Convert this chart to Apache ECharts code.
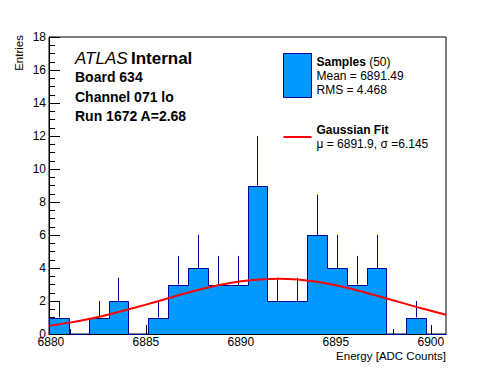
<!DOCTYPE html>
<html><head><meta charset="utf-8">
<script src="https://cdn.jsdelivr.net/npm/echarts@6/dist/echarts.min.js"></script>
<style>html,body{margin:0;padding:0;background:#fff}#c{width:496px;height:372px}</style>
</head><body><div id="c"></div>
<script>
// ---- data ----
const axisMin = 6879.9;
const axisMax = 6900.8;
const counts = [1,0,1,2,0,1,3,4,3,3,9,2,2,6,4,3,4,0,1,0];
const errors = [1,0,1,1.41,0,1,1.73,2,1.73,1.73,3,1.41,1.41,2.45,2,1.73,2,0,1,0];
const fitX = [6879.9,6881,6882,6883,6884,6885,6886,6887,6888,6889,6890,6891,6892,6893,6894,6895,6896,6897,6898,6899,6900,6900.8];
const fitY = [0.50,0.69,0.91,1.17,1.47,1.78,2.11,2.44,2.74,3.00,3.19,3.31,3.35,3.30,3.16,2.95,2.68,2.37,2.05,1.72,1.41,1.17];
const xMajorTicks = [6880,6885,6890,6895,6900];
const xMinorTicks = [6880,6881,6882,6883,6884,6885,6886,6887,6888,6889,6890,6891,6892,6893,6894,6895,6896,6897,6898,6899,6900];
const yMin = 0, yMax = 18, yStep = 2;
const xTitle = 'Energy [ADC Counts]';
const yTitle = 'Entries';
const infoLines = ['Board 634','Channel 071 lo','Run 1672 A=2.68'];
const sampleCount = 50, sampleMean = '6891.49', sampleRms = '4.468';
const fitMu = '6891.9', fitSigma = '6.145';

const FONT = '"Liberation Sans", Arial, Helvetica, sans-serif';
const FILL = '#0099ff', EDGE = '#00009c';

const nb = counts.length;
const bw = (axisMax - axisMin) / nb;
const histData = counts.map((c, i) => [axisMin + i * bw, axisMin + (i + 1) * bw, c, i > 0 ? counts[i - 1] : 0, errors[i], i === nb - 1 ? 1 : 0]);
const fitData = fitX.map((x, i) => [x, fitY[i]]);
const px = v => Math.round(v) + 0.5;
const R = Math.round;

const chart = echarts.init(document.getElementById('c'), null, {renderer: 'svg'});
chart.setOption({
  animation: false,
  backgroundColor: '#fff',
  textStyle: {fontFamily: FONT},
  grid: {left: 49, right: 50, top: 37, bottom: 38, show: true, borderColor: '#000', borderWidth: 1, backgroundColor: '#fff', containLabel: false, outerBoundsMode: 'none'},
  xAxis: [{
    type: 'value', min: axisMin, max: axisMax, position: 'bottom',
    axisLine: {show: true, lineStyle: {color: '#000', width: 1}},
    axisTick: {show: true, inside: true, length: 9, customValues: xMajorTicks, lineStyle: {color: '#000'}},
    axisLabel: {customValues: xMajorTicks, color: '#000', fontSize: 12, margin: 2, fontFamily: FONT, formatter: v => String(v)},
    splitLine: {show: false}
  }, {
    type: 'value', min: axisMin, max: axisMax, position: 'bottom', offset: 0,
    axisLine: {show: false},
    axisTick: {show: true, inside: true, length: 5, customValues: xMinorTicks, lineStyle: {color: '#000'}},
    axisLabel: {show: false},
    splitLine: {show: false}
  }],
  yAxis: {
    type: 'value', min: yMin, max: yMax, interval: yStep,
    axisLine: {show: true, lineStyle: {color: '#000', width: 1}},
    axisTick: {show: true, inside: true, length: 11, lineStyle: {color: '#000'}},
    minorTick: {show: true, splitNumber: 4, length: 6, lineStyle: {color: '#000'}},
    axisLabel: {color: '#000', fontSize: 12, margin: 3, fontFamily: FONT},
    splitLine: {show: false},
    name: yTitle, nameLocation: 'end', nameRotate: 90, nameGap: 2,
    nameTextStyle: {align: 'right', verticalAlign: 'bottom', padding: [0, 0, 24, 0], fontSize: 11.5, color: '#000', fontFamily: FONT}
  },
  legend: {
    left: 283, top: 53, orient: 'vertical', itemWidth: 28, itemHeight: 44, itemGap: 17, padding: 0,
    selectedMode: false,
    data: [
      {name: 'Samples', icon: 'rect', itemStyle: {color: FILL, borderColor: EDGE, borderWidth: 1}},
      {name: 'Gaussian Fit', icon: 'path://M0,0L0,0M0,21L28,21L28,23L0,23ZM28,44L28,44', itemStyle: {color: '#ff0000', borderWidth: 0}}
    ],
    formatter: name => name === 'Samples'
      ? '{b|Samples} {n|(' + sampleCount + ')}\n{n|Mean = ' + sampleMean + '}\n{n|RMS = ' + sampleRms + '}'
      : '{b|Gaussian Fit}\n{n|\u03bc = ' + fitMu + ', \u03c3 =' + fitSigma + '}',
    textStyle: {
      fontFamily: FONT, color: '#000',
      rich: {
        b: {fontWeight: 'bold', fontSize: 12, lineHeight: 14, fontFamily: FONT, color: '#000'},
        n: {fontSize: 12, lineHeight: 14, fontFamily: FONT, color: '#000'}
      }
    }
  },
  graphic: [
    {type: 'text', x: 75, y: 58, style: {text: '{i|ATLAS} {b|Internal}', verticalAlign: 'middle', rich: {
      i: {fontStyle: 'italic', fontSize: 17, fontFamily: FONT, fill: '#000'},
      b: {fontWeight: 'bold', fontSize: 17, fontFamily: FONT, fill: '#000'}}}},
    {type: 'text', x: 75, y: 77, style: {text: infoLines[0], font: 'bold 14px ' + FONT, fill: '#000', verticalAlign: 'middle'}},
    {type: 'text', x: 75, y: 97, style: {text: infoLines[1], font: 'bold 14px ' + FONT, fill: '#000', verticalAlign: 'middle'}},
    {type: 'text', x: 75, y: 116, style: {text: infoLines[2], font: 'bold 14px ' + FONT, fill: '#000', verticalAlign: 'middle'}},
    {type: 'text', x: 446, y: 350, style: {text: xTitle, font: '11.5px ' + FONT, fill: '#000', align: 'right', verticalAlign: 'top'}}
  ],
  series: [{
    name: 'Samples', type: 'custom', xAxisIndex: 0, yAxisIndex: 0,
    itemStyle: {color: FILL, borderColor: EDGE, borderWidth: 1},
    encode: {x: [0, 1], y: 2},
    data: histData,
    renderItem: (params, api) => {
      const lo = api.value(0), hi = api.value(1), c = api.value(2), prev = api.value(3), err = api.value(4), last = api.value(5);
      const b0 = api.coord([lo, 0]), t1 = api.coord([hi, c]), pp = api.coord([lo, prev]);
      const children = [];
      if (c > 0) children.push({type: 'rect', z2: 1, shape: {x: R(b0[0]), y: R(t1[1]), width: R(t1[0]) - R(b0[0]), height: R(b0[1]) - R(t1[1])}, style: {fill: FILL}});
      const pts = [[px(b0[0]), px(pp[1])], [px(b0[0]), px(t1[1])], [px(t1[0]), px(t1[1])]];
      if (last) pts.push([px(t1[0]), px(b0[1])]);
      children.push({type: 'polyline', z2: 5, shape: {points: pts}, style: {stroke: EDGE, lineWidth: 1, fill: null}});
      if (err > 0) {
        const mid = (lo + hi) / 2;
        const a = api.coord([mid, c]), e = api.coord([mid, c + err]);
        children.push({type: 'line', z2: 5, shape: {x1: px(a[0]), y1: a[1], x2: px(a[0]), y2: e[1]}, style: {stroke: EDGE, lineWidth: 1}});
      }
      return {type: 'group', children};
    }
  }, {
    name: 'Gaussian Fit', type: 'line', xAxisIndex: 0, yAxisIndex: 0, z: 5,
    data: fitData, symbol: 'none', smooth: 0.3,
    itemStyle: {color: '#ff0000'},
    lineStyle: {color: '#ff0000', width: 2}
  }]
});
</script></body></html>
